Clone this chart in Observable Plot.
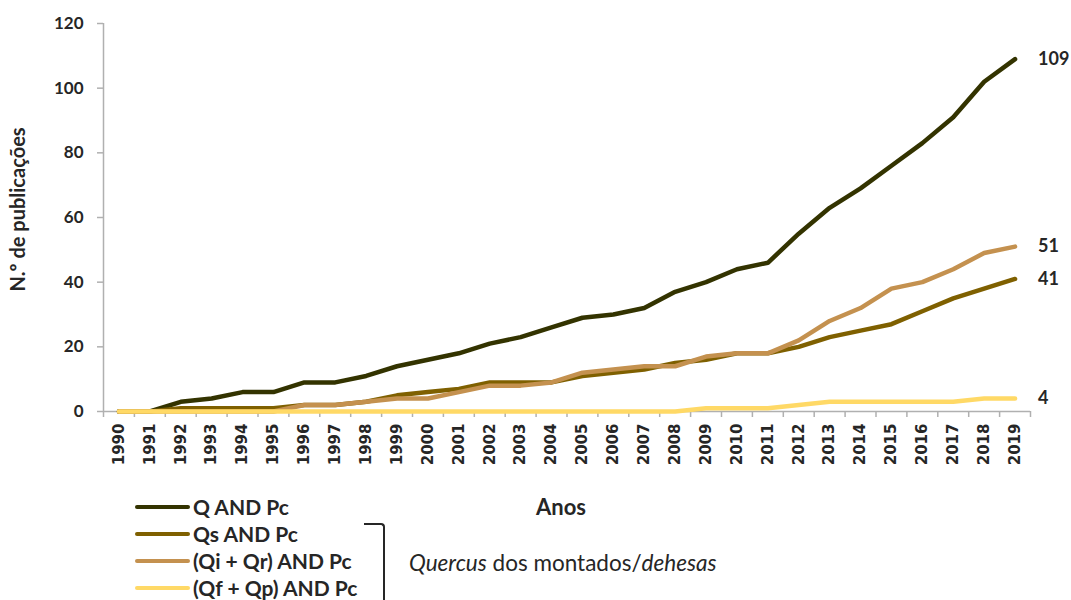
<!DOCTYPE html>
<html>
<head>
<meta charset="utf-8">
<script src="https://cdn.jsdelivr.net/npm/d3@7"></script>
<script src="https://cdn.jsdelivr.net/npm/@observablehq/plot@0.6"></script>
<style>
  html, body { margin: 0; padding: 0; background: #fff; }
  #wrap { position: relative; width: 1071px; height: 600px; overflow: hidden; font-family: Lato, "Noto Sans", sans-serif; color: #262626; }
  #legend { position: absolute; left: 0; top: 480px; width: 1071px; height: 120px; }
  .lg-line { position: absolute; left: 135px; width: 55px; height: 4.5px; border-radius: 3px; }
  .lg-text { position: absolute; left: 193px; font-weight: bold; font-size: 21px; line-height: 24px; white-space: nowrap; }
  #anos { position: absolute; left: 561px; transform: translateX(-50%); font-weight: bold; font-size: 22px; line-height: 24px; }
  #bracket { position: absolute; left: 364px; top: 43px; width: 19px; height: 100px; border-top: 2px solid #262626; border-right: 2px solid #262626; border-top-right-radius: 4px; }
  #quercus { position: absolute; left: 409px; font-size: 22.5px; line-height: 24px; white-space: nowrap; }
</style>
</head>
<body>
<div id="wrap"></div>
<script>
// ---- Data ----
const years = [1990,1991,1992,1993,1994,1995,1996,1997,1998,1999,2000,2001,2002,2003,2004,2005,2006,2007,2008,2009,2010,2011,2012,2013,2014,2015,2016,2017,2018,2019];
const seriesNames = ["Q AND Pc", "Qs AND Pc", "(Qi + Qr) AND Pc", "(Qf + Qp) AND Pc"];
const seriesColors = ["#333300", "#7f6000", "#c4914f", "#ffd966"];
const qAndPc   = [0,0,3,4,6,6,9,9,11,14,16,18,21,23,26,29,30,32,37,40,44,46,55,63,69,76,83,91,102,109];
const qsAndPc  = [0,0,1,1,1,1,2,2,3,5,6,7,9,9,9,11,12,13,15,16,18,18,20,23,25,27,31,35,38,41];
const qiQrAndPc = [0,0,0,0,0,0,2,2,3,4,4,6,8,8,9,12,13,14,14,17,18,18,22,28,32,38,40,44,49,51];
const qfQpAndPc = [0,0,0,0,0,0,0,0,0,0,0,0,0,0,0,0,0,0,0,1,1,1,2,3,3,3,3,3,4,4];
const yTicks = [0,20,40,60,80,100,120];
const yTitle = "N.º de publicações";
const xTitle = "Anos";

// ---- Build table ----
const seriesValues = [qAndPc, qsAndPc, qiQrAndPc, qfQpAndPc];
const table = [];
seriesNames.forEach((s, si) => years.forEach((yr, i) => table.push({series: s, year: yr, value: seriesValues[si][i]})));
const lastPoints = seriesNames.map((s, si) => ({series: s, year: years[years.length - 1], value: seriesValues[si][years.length - 1]}));
const xDomain = [years[0] - 0.5, years[years.length - 1] + 0.5];
const boundaries = [xDomain[0], ...years.map(y => y + 0.5)];

const gray = "#b0b0b0";
const dark = "#262626";

const chart = Plot.plot({
  width: 1071,
  height: 480,
  marginLeft: 103,
  marginRight: 41,
  marginTop: 23,
  marginBottom: 69,
  style: {fontFamily: "Lato, 'Noto Sans', sans-serif", color: dark, background: "#fff"},
  x: {type: "linear", domain: xDomain},
  y: {domain: [0, 120]},
  color: {domain: seriesNames, range: seriesColors},
  marks: [
    Plot.ruleX([xDomain[0]], {stroke: gray, strokeWidth: 1.5}),
    Plot.ruleY([0], {stroke: gray, strokeWidth: 1.5}),
    Plot.axisY({ticks: yTicks, tickSize: 6, tickFormat: () => "", label: null, stroke: gray, strokeWidth: 1.5}),
    Plot.axisX({ticks: boundaries, tickSize: 6, tickFormat: () => "", label: null, stroke: gray, strokeWidth: 1.5}),
    // tick labels
    Plot.text(yTicks, {x: xDomain[0], y: d => d, text: d => String(d), dx: -20, textAnchor: "end", fill: dark, fontSize: 17, fontWeight: "bold", fontFamily: "Lato, sans-serif"}),
    Plot.text(years, {x: d => d, y: 0, text: d => String(d), rotate: -90, textAnchor: "end", dy: 12, fill: dark, fontSize: 15, fontWeight: "bold", fontFamily: "'DejaVu Sans', sans-serif"}),
    Plot.line(table, {x: "year", y: "value", z: "series", stroke: "series", strokeWidth: 4.5, strokeLinecap: "round", strokeLinejoin: "round"}),
    Plot.text(lastPoints, {x: "year", y: "value", text: d => String(d.value), dx: 23, textAnchor: "start", fill: dark, fontSize: 18, fontWeight: "bold"}),
    Plot.text([yTitle], {frameAnchor: "left", textAnchor: "middle", rotate: -90, dx: -85, dy: -8, fill: dark, fontSize: 20, fontWeight: "bold"})
  ]
});

const wrap = document.getElementById("wrap");
chart.style.position = "absolute";
chart.style.left = "0px";
chart.style.top = "0px";
wrap.appendChild(chart);

// ---- Legend (below the SVG) ----
const legend = document.createElement("div");
legend.id = "legend";
seriesNames.forEach((s, i) => {
  const cy = 27 + 27 * i;
  const ln = document.createElement("div");
  ln.className = "lg-line";
  ln.style.background = seriesColors[i];
  ln.style.top = (cy - 2.25) + "px";
  legend.appendChild(ln);
  const tx = document.createElement("div");
  tx.className = "lg-text";
  tx.textContent = s;
  tx.style.top = (cy - 12) + "px";
  legend.appendChild(tx);
});
const anos = document.createElement("div");
anos.id = "anos";
anos.textContent = xTitle;
anos.style.top = (27 - 12) + "px";
legend.appendChild(anos);
const br = document.createElement("div");
br.id = "bracket";
legend.appendChild(br);
const q = document.createElement("div");
q.id = "quercus";
q.innerHTML = "<i>Quercus</i> dos montados/<i>dehesas</i>";
q.style.top = (83 - 12) + "px";
legend.appendChild(q);
wrap.appendChild(legend);
</script>
</body>
</html>
